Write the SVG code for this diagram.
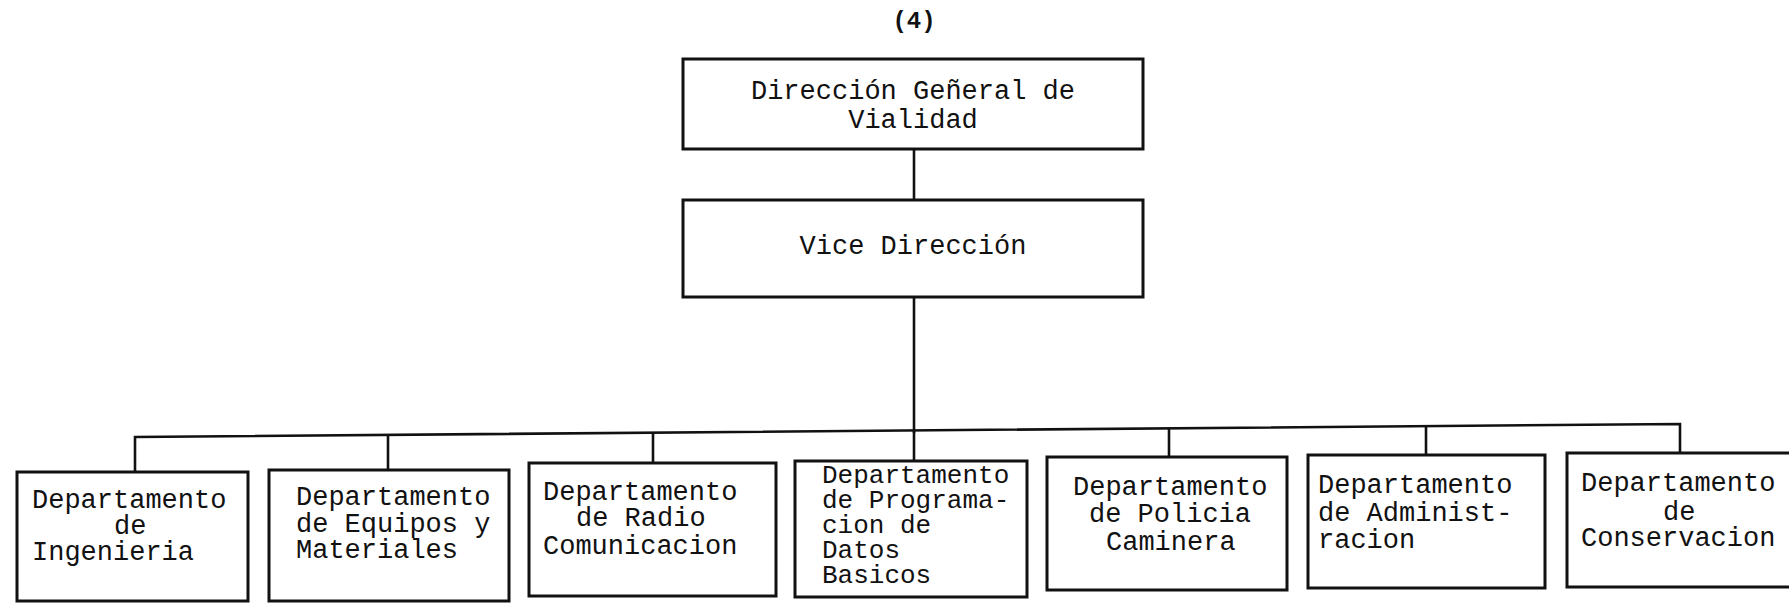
<svg xmlns="http://www.w3.org/2000/svg" width="1789" height="604" viewBox="0 0 1789 604">
<style>
.box{fill:#fff;stroke:#111;stroke-width:3}
.ln{fill:none;stroke:#111;stroke-width:2.6}
text{font-family:"Liberation Mono","DejaVu Sans Mono",monospace;font-size:27px;fill:#111}
.c{text-anchor:middle}
.t{font-size:26px}
</style>
<rect width="1789" height="604" fill="#fff"/>
<text class="c" x="914" y="28" font-weight="bold" style="font-size:24px">(4)</text>
<g id="connectors">
<line class="ln" x1="914" y1="149" x2="914" y2="200"/>
<line class="ln" x1="914" y1="297" x2="914" y2="433"/>
<polyline class="ln" points="135,472 135,437 1680,424 1680,453"/>
<line class="ln" x1="388" y1="435" x2="388" y2="470"/>
<line class="ln" x1="653" y1="433" x2="653" y2="463"/>
<line class="ln" x1="914" y1="431" x2="914" y2="461"/>
<line class="ln" x1="1169" y1="429" x2="1169" y2="457"/>
<line class="ln" x1="1426" y1="427" x2="1426" y2="455"/>
</g>
<g id="n-direccion">
<rect class="box" x="683" y="59" width="460" height="90"/>
<text class="c"><tspan x="913" y="99">Dirección Geñeral de</tspan><tspan x="913" y="128">Vialidad</tspan></text>
</g>
<g id="n-vice">
<rect class="box" x="683" y="200" width="460" height="97"/>
<text class="c" x="913" y="254">Vice Dirección</text>
</g>
<g id="n-ingenieria">
<rect class="box" x="17" y="472" width="231" height="129"/>
<text><tspan x="32" y="508">Departamento</tspan><tspan x="114" y="534">de</tspan><tspan x="32" y="560">Ingenieria</tspan></text>
</g>
<g id="n-equipos">
<rect class="box" x="269" y="470" width="240" height="131"/>
<text><tspan x="296" y="505">Departamento</tspan><tspan x="296" y="532">de Equipos y</tspan><tspan x="296" y="558">Materiales</tspan></text>
</g>
<g id="n-radio">
<rect class="box" x="529" y="463" width="247" height="133"/>
<text><tspan x="543" y="500">Departamento</tspan><tspan x="576" y="526">de Radio</tspan><tspan x="543" y="554">Comunicacion</tspan></text>
</g>
<g id="n-programacion">
<rect class="box" x="795" y="461" width="232" height="136"/>
<text class="t"><tspan x="822" y="483">Departamento</tspan><tspan x="822" y="508">de Programa-</tspan><tspan x="822" y="533">cion de</tspan><tspan x="822" y="558">Datos</tspan><tspan x="822" y="583">Basicos</tspan></text>
</g>
<g id="n-policia">
<rect class="box" x="1047" y="457" width="240" height="133"/>
<text><tspan x="1073" y="495">Departamento</tspan><tspan x="1089" y="522">de Policia</tspan><tspan x="1106" y="550">Caminera</tspan></text>
</g>
<g id="n-administracion">
<rect class="box" x="1308" y="455" width="237" height="133"/>
<text><tspan x="1318" y="493">Departamento</tspan><tspan x="1318" y="521">de Administ-</tspan><tspan x="1318" y="548">racion</tspan></text>
</g>
<g id="n-conservacion">
<rect class="box" x="1567" y="453" width="240" height="134"/>
<text><tspan x="1581" y="491">Departamento</tspan><tspan x="1663" y="520">de</tspan><tspan x="1581" y="546">Conservacion</tspan></text>
</g>
</svg>
